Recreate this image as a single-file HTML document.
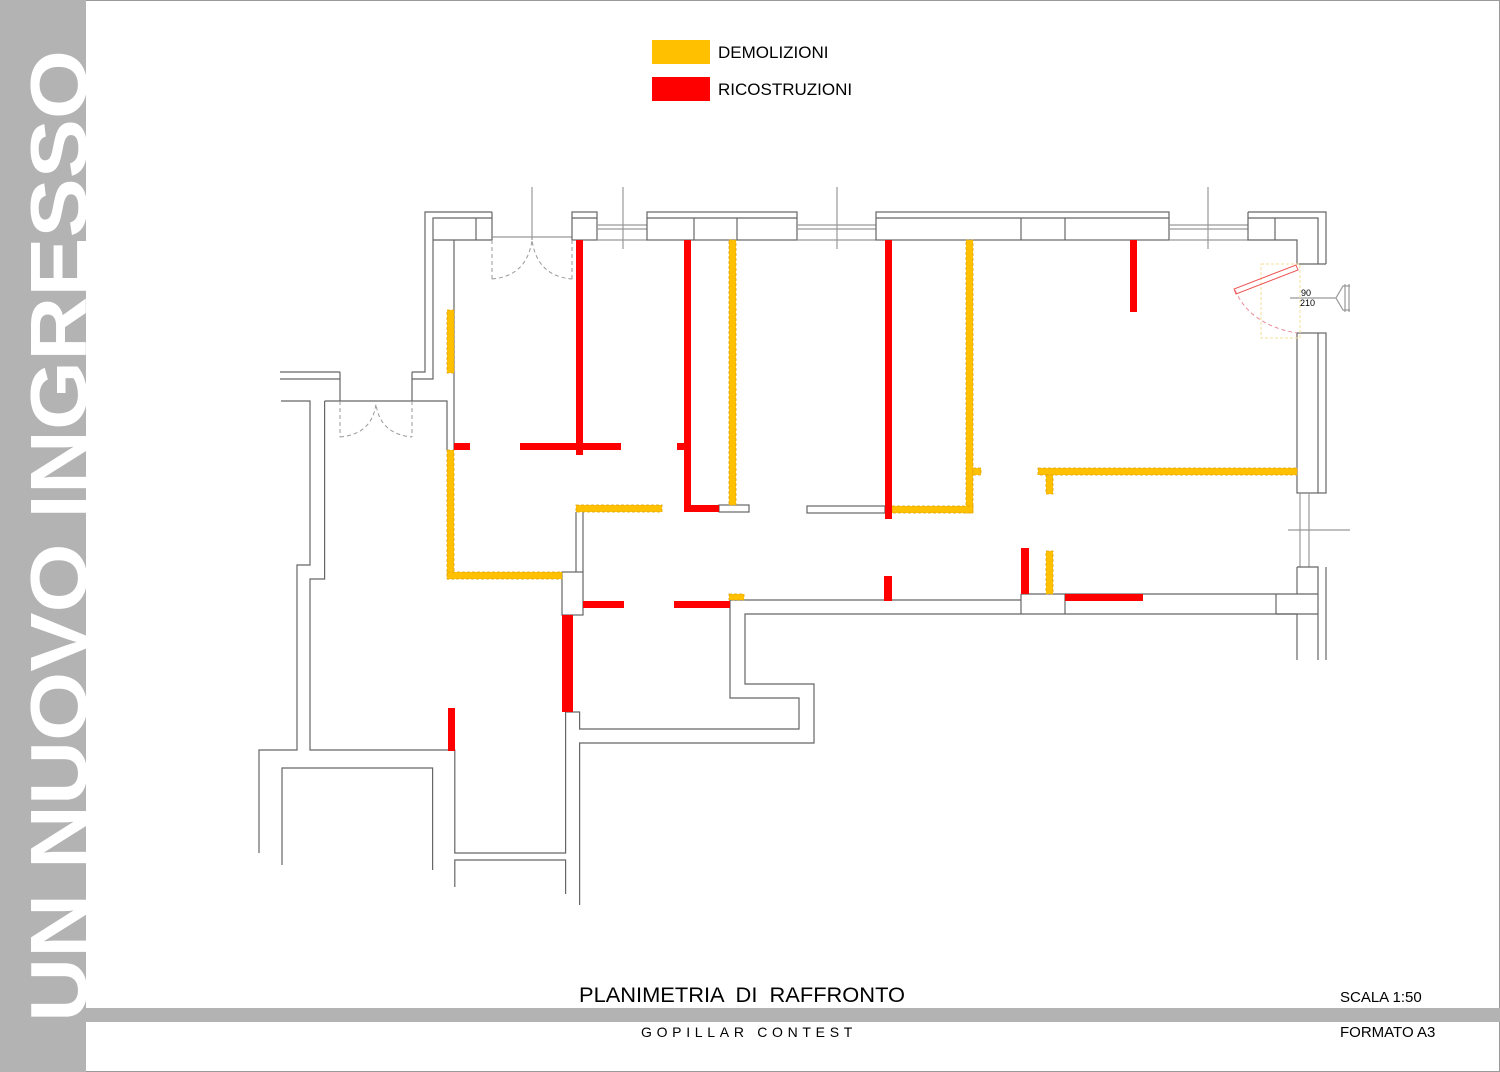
<!DOCTYPE html>
<html><head><meta charset="utf-8"><style>
html,body{margin:0;padding:0;background:#fff}
svg{display:block}
text{font-family:"Liberation Sans",sans-serif}
</style></head><body>
<svg width="1500" height="1072" viewBox="0 0 1500 1072" xmlns="http://www.w3.org/2000/svg">
<rect x="0.5" y="0.5" width="1499" height="1071" fill="#fff" stroke="#999"/>
<rect x="0" y="0" width="86" height="1072" fill="#b3b3b3"/>
<rect x="86" y="1008" width="1414" height="14" fill="#b3b3b3"/>
<text transform="translate(86,1022) rotate(-90)" font-size="80" font-weight="bold" fill="#fff" textLength="972" lengthAdjust="spacingAndGlyphs">UN NUOVO INGRESSO</text>

<rect x="652" y="40" width="58" height="24" fill="#ffc000"/>
<rect x="652" y="77" width="58" height="24" fill="#ff0000"/>
<text x="718" y="58" font-size="17">DEMOLIZIONI</text>
<text x="718" y="95" font-size="17">RICOSTRUZIONI</text>

<text x="579" y="1002" font-size="21" textLength="326" lengthAdjust="spacingAndGlyphs" xml:space="preserve">PLANIMETRIA  DI  RAFFRONTO</text>
<text x="1340" y="1002" font-size="15">SCALA 1:50</text>
<text x="641" y="1037" font-size="14" letter-spacing="4.7">GOPILLAR CONTEST</text>
<text x="1340" y="1037" font-size="15">FORMATO A3</text>

<g fill="none" stroke="#666" stroke-width="1.2">
<polyline points="280,372 340,372"/><polyline points="280,379 340,379"/>
<line x1="340" y1="372" x2="340" y2="401"/><line x1="412" y1="372" x2="412" y2="401"/>
<polyline points="412,372 425,372 425,212 492,212"/>
<polyline points="412,379 433,379 433,218 492,218"/>
<line x1="433" y1="240" x2="492" y2="240"/>
<line x1="476" y1="218" x2="476" y2="240"/>
<line x1="492" y1="212" x2="492" y2="240"/>
<line x1="454" y1="240" x2="454" y2="450"/>
<polyline points="281,401 310,401 310,565 297,565 297,750 259,750 259,853"/>
<polyline points="324.6,401 447,401 447,450"/>
<polyline points="324.6,401 324.6,579 310,579 310,750 454.8,750 454.8,853 565.6,853 565.6,712"/>
<polyline points="282,865 282,768 432.6,768 432.6,870"/>
<polyline points="454.8,887 454.8,860 565.6,860 565.6,894"/>
<polyline points="565.6,712 579.6,712 579.6,729 799,729 799,698 730,698 730,600 1021,600"/>
<polyline points="579.6,905 579.6,743 814,743 814,684 745,684 745,614 1297,614 1297,660"/>
<line x1="576" y1="512" x2="576" y2="572"/><line x1="583" y1="512" x2="583" y2="572"/>
<rect x="562" y="572" width="21" height="43"/>
<line x1="492" y1="237" x2="572" y2="237" stroke="#999"/>
<line x1="532" y1="187" x2="532" y2="240" stroke="#999"/>
<rect x="572" y="212" width="25" height="28"/><line x1="572" y1="218" x2="597" y2="218"/>
<line x1="597" y1="225" x2="647" y2="225" stroke="#999"/><line x1="597" y1="229" x2="647" y2="229" stroke="#999"/><line x1="597" y1="240" x2="647" y2="240" stroke="#999"/>
<line x1="623" y1="187" x2="623" y2="249" stroke="#999"/>
<rect x="647" y="212" width="150" height="28"/><line x1="647" y1="218" x2="797" y2="218"/>
<line x1="694" y1="218" x2="694" y2="240"/><line x1="737" y1="218" x2="737" y2="240"/>
<line x1="797" y1="225" x2="876" y2="225" stroke="#999"/><line x1="797" y1="229" x2="876" y2="229" stroke="#999"/><line x1="797" y1="240" x2="876" y2="240" stroke="#999"/>
<line x1="837" y1="187" x2="837" y2="249" stroke="#999"/>
<rect x="876" y="212" width="293" height="28"/><line x1="876" y1="218" x2="1169" y2="218"/>
<line x1="1021" y1="218" x2="1021" y2="240"/><line x1="1065" y1="218" x2="1065" y2="240"/>
<line x1="1169" y1="225" x2="1248" y2="225" stroke="#999"/><line x1="1169" y1="229" x2="1248" y2="229" stroke="#999"/><line x1="1169" y1="240" x2="1248" y2="240" stroke="#999"/>
<line x1="1208" y1="187" x2="1208" y2="249" stroke="#999"/>
<polyline points="1248,212 1326,212 1326,264"/>
<polyline points="1248,218 1318,218 1318,264"/>
<line x1="1275" y1="218" x2="1275" y2="240"/>
<polyline points="1248,212 1248,240 1297,240 1297,264 1326,264"/>
<rect x="1297" y="333" width="29" height="160"/><line x1="1318" y1="333" x2="1318" y2="493"/>
<line x1="1300" y1="493" x2="1300" y2="567" stroke="#999"/><line x1="1309" y1="493" x2="1309" y2="567" stroke="#999"/>
<line x1="1288" y1="530" x2="1350" y2="530" stroke="#999"/>
<polyline points="1297,567 1318,567 1318,660"/><line x1="1326" y1="567" x2="1326" y2="660"/>
<line x1="1297" y1="567" x2="1297" y2="594"/>
<line x1="1021" y1="594" x2="1318" y2="594"/>
<line x1="1021" y1="594" x2="1021" y2="614"/><line x1="1065" y1="594" x2="1065" y2="614"/><line x1="1276" y1="594" x2="1276" y2="614"/>
<line x1="1276" y1="614" x2="1318" y2="614"/>
<rect x="719" y="505" width="30" height="7"/>
<rect x="807" y="506" width="78" height="7"/>
<line x1="1290" y1="298" x2="1336" y2="298" stroke="#999"/>
<polyline points="1350,286 1343,286 1336,298 1343,310 1350,310" stroke="#999"/>
<line x1="1345" y1="284" x2="1345" y2="312" stroke="#999"/><line x1="1349" y1="284" x2="1349" y2="312" stroke="#999"/>
</g>
<g fill="none" stroke="#999" stroke-dasharray="4,3" stroke-width="1">
<line x1="492" y1="240" x2="492" y2="279"/><line x1="572" y1="240" x2="572" y2="279"/>
<path d="M492,279 Q527,276 532,240 Q537,276 572,279"/>
<line x1="340" y1="401" x2="340" y2="437"/><line x1="412" y1="401" x2="412" y2="437"/>
<path d="M340,437 Q372,434 376,404 Q380,434 412,437"/>
</g>
<rect x="1261" y="264" width="39" height="74" fill="none" stroke="#f3df9a" stroke-dasharray="3,2"/>
<path d="M1235,290 Q1250,325 1297,333" fill="none" stroke="#e89" stroke-dasharray="4,3"/>
<polygon points="1296,265 1298,270 1236,294 1234,289" fill="none" stroke="#e55"/>
<text x="1301" y="296" font-size="9">90</text>
<text x="1300" y="306" font-size="9">210</text>

<g fill="#ffc000" stroke="#e0a000" stroke-dasharray="3,2" stroke-width="0.8">
<rect x="447" y="310" width="7" height="63"/>
<rect x="729" y="240" width="7" height="265"/>
<rect x="576" y="505" width="86" height="7"/>
<rect x="447" y="450" width="7" height="129"/>
<rect x="447" y="572" width="115" height="7"/>
<rect x="729" y="594" width="15" height="6"/>
<rect x="966" y="240" width="7" height="273"/>
<rect x="892" y="506" width="81" height="7"/>
<rect x="973" y="468" width="8" height="7"/>
<rect x="1038" y="468" width="259" height="7"/>
<rect x="1046" y="475" width="7" height="19"/>
<rect x="1046" y="551" width="7" height="43"/>
</g>
<g fill="#ff0000">
<rect x="454" y="443" width="16" height="7"/>
<rect x="520" y="443" width="101" height="7"/>
<rect x="576" y="240" width="7" height="215"/>
<rect x="684" y="240" width="7" height="272"/>
<rect x="677" y="443" width="7" height="7"/>
<rect x="684" y="505" width="35" height="7"/>
<rect x="583" y="601" width="41" height="7"/>
<rect x="674" y="601" width="56" height="7"/>
<rect x="562" y="615" width="11" height="97"/>
<rect x="448" y="708" width="7" height="43"/>
<rect x="885" y="240" width="7" height="279"/>
<rect x="1130" y="240" width="7" height="72"/>
<rect x="1021" y="548" width="8" height="46"/>
<rect x="884" y="576" width="8" height="25"/>
<rect x="1065" y="594" width="78" height="7"/>
</g>
</svg>
</body></html>
